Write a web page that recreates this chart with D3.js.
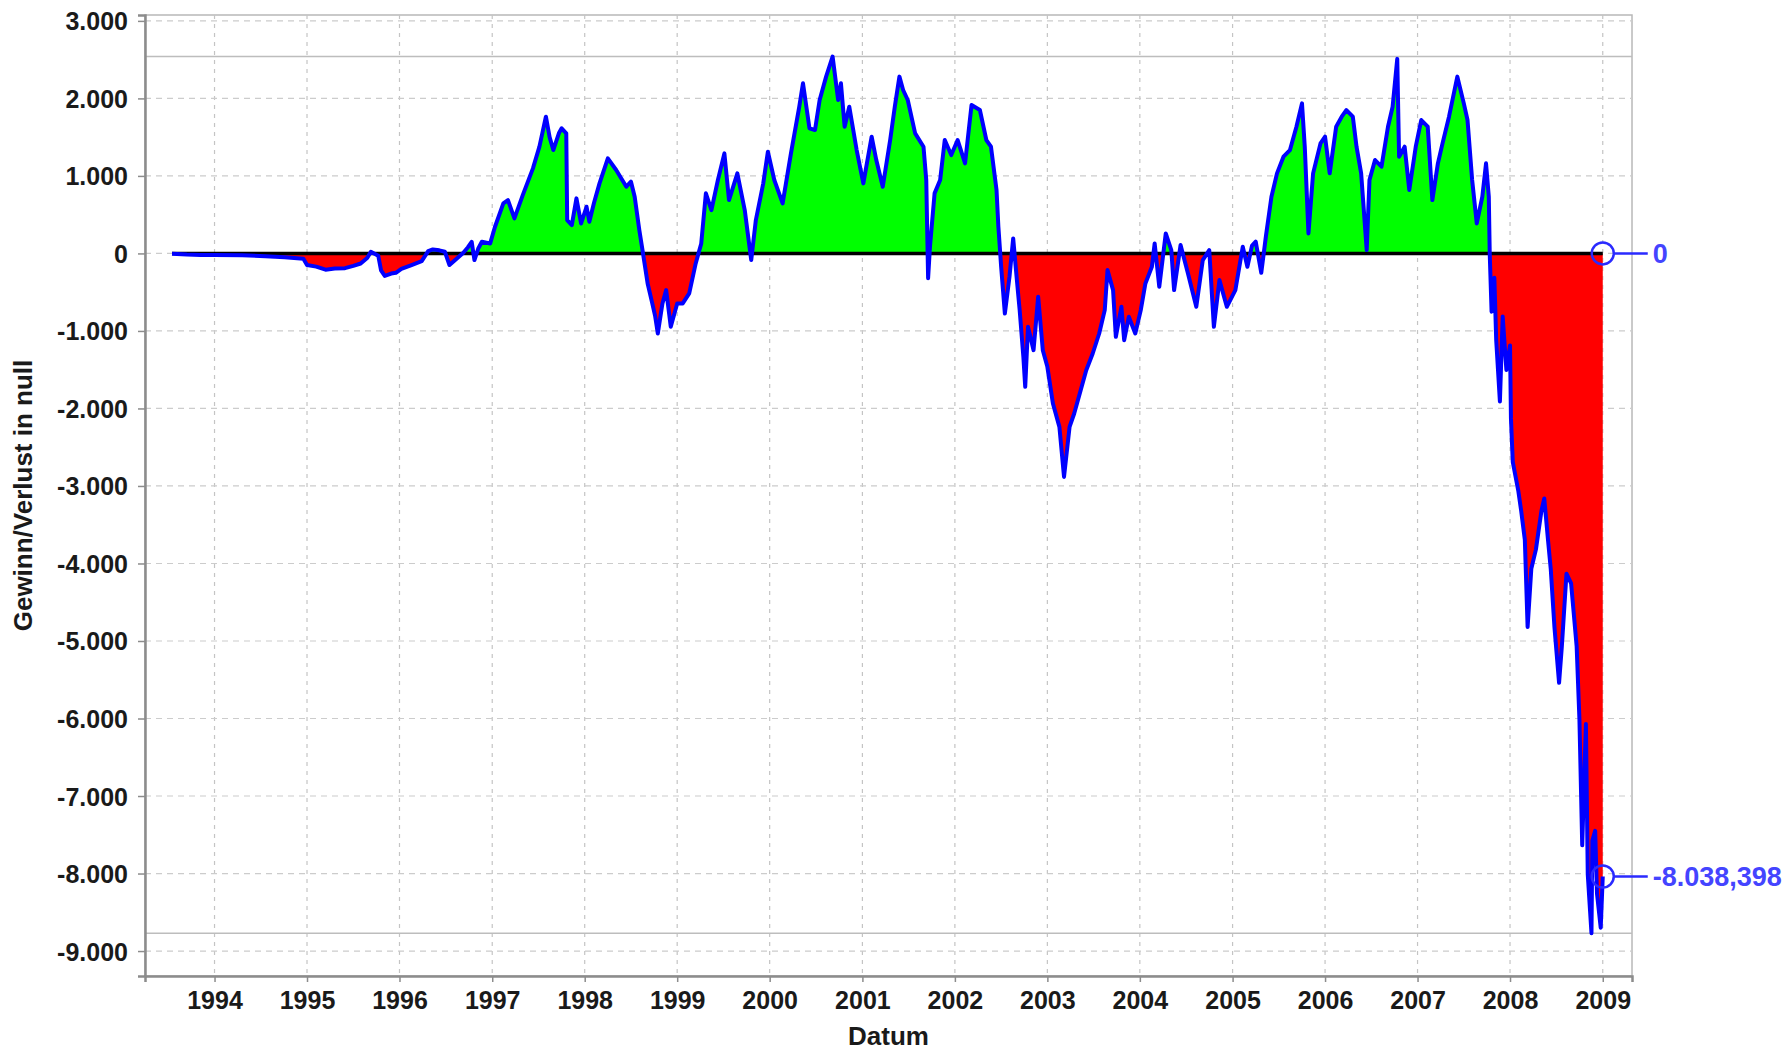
<!DOCTYPE html>
<html>
<head>
<meta charset="utf-8">
<script src="https://cdn.jsdelivr.net/npm/d3@7"></script>
<style>
body { margin:0; background:#fff; }
svg { display:block; font-family:"Liberation Sans", Arial, sans-serif; }
</style>
</head>
<body>
<svg></svg>
<script>
var screen = {width:1790,height:1053}
var margins = {top:15,right:158,bottom:77,left:145}

// decimal years
var times = [1993.54,1993.70,1993.85,1994.00,1994.30,1994.55,1994.76,1994.96,1995.00,1995.10,
1995.20,1995.30,1995.41,1995.50,1995.58,1995.65,1995.69,1995.74,1995.77,1995.80,
1995.84,1995.91,1995.96,1996.02,1996.13,1996.24,1996.31,1996.36,1996.43,1996.49,
1996.54,1996.62,1996.69,1996.74,1996.78,1996.81,1996.85,1996.89,1996.98,1997.03,
1997.12,1997.17,1997.24,1997.33,1997.44,1997.51,1997.58,1997.62,1997.66,1997.72,
1997.75,1997.80,1997.81,1997.86,1997.91,1997.96,1998.02,1998.05,1998.10,1998.16,
1998.25,1998.34,1998.45,1998.50,1998.54,1998.59,1998.63,1998.68,1998.73,1998.76,
1998.79,1998.84,1998.88,1998.93,1999.00,1999.06,1999.13,1999.20,1999.26,1999.31,
1999.37,1999.44,1999.51,1999.56,1999.65,1999.73,1999.80,1999.85,1999.93,1999.98,
2000.05,2000.14,2000.23,2000.32,2000.36,2000.43,2000.49,2000.54,2000.61,2000.68,
2000.74,2000.77,2000.81,2000.86,2000.94,2001.01,2001.10,2001.15,2001.22,2001.30,
2001.35,2001.40,2001.44,2001.49,2001.57,2001.66,2001.69,2001.71,2001.73,2001.78,
2001.84,2001.89,2001.96,2002.03,2002.11,2002.18,2002.27,2002.34,2002.39,2002.45,
2002.47,2002.50,2002.54,2002.59,2002.63,2002.67,2002.70,2002.74,2002.76,2002.79,
2002.85,2002.90,2002.95,2003.00,2003.06,2003.13,2003.18,2003.24,2003.29,2003.36,
2003.42,2003.49,2003.56,2003.62,2003.65,2003.71,2003.74,2003.80,2003.83,2003.88,
2003.95,2004.01,2004.06,2004.13,2004.16,2004.21,2004.28,2004.34,2004.37,2004.44,
2004.52,2004.61,2004.68,2004.75,2004.80,2004.86,2004.94,2005.03,2005.11,2005.16,
2005.21,2005.25,2005.31,2005.36,2005.42,2005.48,2005.55,2005.62,2005.69,2005.75,
2005.78,2005.82,2005.87,2005.95,2006.00,2006.05,2006.12,2006.18,2006.23,2006.30,
2006.34,2006.39,2006.45,2006.48,2006.54,2006.61,2006.68,2006.73,2006.78,2006.80,
2006.86,2006.91,2006.98,2007.04,2007.11,2007.16,2007.22,2007.27,2007.34,2007.43,
2007.50,2007.54,2007.59,2007.64,2007.70,2007.74,2007.77,2007.78,2007.80,2007.83,
2007.85,2007.89,2007.92,2007.96,2008.00,2008.01,2008.03,2008.09,2008.12,2008.16,
2008.19,2008.23,2008.28,2008.34,2008.37,2008.41,2008.44,2008.48,2008.53,2008.56,
2008.61,2008.66,2008.72,2008.75,2008.78,2008.82,2008.84,2008.88,2008.89,2008.92,
2008.94,2008.98,2009.00]

var values = [-5,-15,-20,-20,-22,-35,-50,-70,-150,-170,
-210,-195,-190,-160,-130,-60,20,-10,-30,-220,
-290,-260,-250,-200,-150,-100,30,52,40,22,
-150,-65,9,80,150,-86,60,150,129,344,
645,688,452,753,1097,1377,1764,1500,1334,1550,
1614,1549,430,366,710,387,602,409,650,904,
1226,1076,861,925,731,301,0,-387,-645,-800,
-1033,-645,-473,-947,-645,-645,-516,-129,129,775,
559,947,1291,688,1033,559,-86,430,904,1312,
947,645,1291,1893,2195,1614,1592,1979,2281,2540,
1979,2195,1635,1893,1334,904,1506,1205,861,1463,
1893,2281,2108,1979,1549,1377,947,-320,86,775,
947,1463,1269,1463,1162,1915,1850,1463,1377,818,
344,-172,-775,-301,194,-344,-731,-1334,-1721,-947,
-1248,-559,-1248,-1463,-1936,-2238,-2883,-2238,-2065,-1764,
-1506,-1291,-1033,-731,-215,-473,-1076,-688,-1119,-818,
-1033,-731,-387,-172,129,-430,258,43,-473,108,
-258,-688,-86,43,-947,-344,-688,-473,86,-172,
100,151,-250,220,731,1033,1248,1334,1635,1936,
1377,258,1033,1420,1506,1033,1635,1764,1850,1764,
1377,1033,43,947,1205,1119,1635,1893,2510,1248,
1377,818,1377,1721,1635,688,1162,1420,1764,2281,
1936,1721,947,387,731,1162,731,0,-751,-314,
-1117,-1910,-813,-1503,-1189,-2128,-2692,-3067,-3317,-3693,
-4820,-4069,-3818,-3317,-3161,-3693,-4069,-4820,-5539,-5070,
-4131,-4256,-5070,-6009,-7636,-6071,-8012,-8770,-7573,-7449,
-8262,-8700,-8038.398]

var xTicks = [1994,1995,1996,1997,1998,1999,2000,2001,2002,2003,2004,2005,2006,2007,2008,2009]
var yTicks = [3000,2000,1000,0,-1000,-2000,-3000,-4000,-5000,-6000,-7000,-8000,-9000]
var yTickLabels = ["3.000","2.000","1.000","0","-1.000","-2.000","-3.000","-4.000","-5.000","-6.000","-7.000","-8.000","-9.000"]
var markerValues = [0,-8038.398]
var markerLabels = ["0","-8.038,398"]

var toDate = function(t)
{
    var y = Math.floor(t)
    return new Date(Date.UTC(y,0,1) + (t-y)*365.25*864e5)
}

var data = times.map(function(t,i){return {date:toDate(t), value:values[i]}})

var width = screen.width - margins.left - margins.right
var height = screen.height - margins.top - margins.bottom

var xScale = d3.scaleUtc()
               .domain([toDate(1993.248), toDate(2009.316)])
               .range([0,width])

var yScale = d3.scaleLinear()
               .domain([-9322,3076])
               .range([height,0])

var svg = d3.select("svg")
            .attr("width",screen.width)
            .attr("height",screen.height)

var graph = svg.append("g")
               .attr("id","graph")
               .attr("transform","translate("+margins.left+","+margins.top+")")

graph.append("rect")
     .attr("width",width)
     .attr("height",height)
     .attr("fill","#fff")
     .attr("stroke","#b8b8b8")
     .attr("stroke-width",1.5)

// grid
graph.selectAll(".vgrid")
     .data(xTicks)
     .enter()
     .append("line")
     .attr("x1",function(d){return xScale(toDate(d))})
     .attr("x2",function(d){return xScale(toDate(d))})
     .attr("y1",0)
     .attr("y2",height)
     .attr("stroke","#c4c4c4")
     .attr("stroke-width",1.2)
     .attr("stroke-dasharray","4,5")

graph.selectAll(".hgrid")
     .data(yTicks)
     .enter()
     .append("line")
     .attr("x1",0)
     .attr("x2",width)
     .attr("y1",function(d){return yScale(d)})
     .attr("y2",function(d){return yScale(d)})
     .attr("stroke","#cccccc")
     .attr("stroke-width",1.2)
     .attr("stroke-dasharray","6,5")

// max / min lines
var extent = d3.extent(values)
graph.selectAll(".range")
     .data(extent)
     .enter()
     .append("line")
     .attr("x1",0)
     .attr("x2",width)
     .attr("y1",function(d){return yScale(d)})
     .attr("y2",function(d){return yScale(d)})
     .attr("stroke","#bdbdbd")
     .attr("stroke-width",1.5)

var defs = svg.append("defs")
defs.append("clipPath").attr("id","above")
    .append("rect").attr("x",0).attr("y",0).attr("width",width).attr("height",yScale(0))
defs.append("clipPath").attr("id","below")
    .append("rect").attr("x",0).attr("y",yScale(0)).attr("width",width).attr("height",height-yScale(0))

var area = d3.area()
             .x(function(d){return xScale(d.date)})
             .y0(yScale(0))
             .y1(function(d){return yScale(d.value)})

graph.append("path")
     .datum(data)
     .attr("d",area)
     .attr("fill","#00ff00")
     .attr("clip-path","url(#above)")

graph.append("path")
     .datum(data)
     .attr("d",area)
     .attr("fill","#ff0000")
     .attr("clip-path","url(#below)")

graph.append("line")
     .attr("x1",xScale(data[0].date))
     .attr("x2",xScale(data[data.length-1].date))
     .attr("y1",yScale(0))
     .attr("y2",yScale(0))
     .attr("stroke","#000")
     .attr("stroke-width",3.5)

var line = d3.line()
             .x(function(d){return xScale(d.date)})
             .y(function(d){return yScale(d.value)})

graph.append("path")
     .datum(data)
     .attr("d",line)
     .attr("fill","none")
     .attr("stroke","#0000ff")
     .attr("stroke-width",4)
     .attr("stroke-linejoin","round")

// axes
var xAxis = d3.axisBottom(xScale)
              .tickValues(xTicks.map(toDate))
              .tickFormat(function(d){return d.getUTCFullYear()})
              .tickSize(6)
var yAxis = d3.axisLeft(yScale)
              .tickValues(yTicks)
              .tickFormat(function(d,i){return yTickLabels[i]})
              .tickSize(7)

var gx = graph.append("g")
     .attr("transform","translate(0,"+height+")")
     .call(xAxis)
var gy = graph.append("g")
     .call(yAxis)

gx.select(".domain").attr("stroke","#8c8c8c").attr("stroke-width",2.5)
gy.select(".domain").attr("stroke","#8c8c8c").attr("stroke-width",2.5)
gx.selectAll(".tick line").attr("stroke","#8c8c8c").attr("stroke-width",1.5)
gy.selectAll(".tick line").attr("stroke","#8c8c8c").attr("stroke-width",1.5)
gx.selectAll("text")
  .attr("font-size",25).attr("font-weight","bold").attr("fill","#1a1a1a")
  .attr("font-family","Liberation Sans, Arial, sans-serif")
  .attr("dy","0.95em")
gy.selectAll("text")
  .attr("font-size",25).attr("font-weight","bold").attr("fill","#1a1a1a")
  .attr("font-family","Liberation Sans, Arial, sans-serif")
  .attr("x",-17)
  .attr("dy","0.36em")

// axis titles
svg.append("text")
   .attr("x",margins.left+width/2)
   .attr("y",1045)
   .attr("text-anchor","middle")
   .attr("font-size",26)
   .attr("font-weight","bold")
   .attr("fill","#1a1a1a")
   .text("Datum")

svg.append("text")
   .attr("transform","translate(32,"+(margins.top+height/2)+") rotate(-90)")
   .attr("text-anchor","middle")
   .attr("font-size",26)
   .attr("font-weight","bold")
   .attr("fill","#1a1a1a")
   .text("Gewinn/Verlust in null")

// end markers
var lastX = xScale(data[data.length-1].date)
var markers = graph.selectAll(".marker")
                   .data(markerValues)
                   .enter()
                   .append("g")
                   .attr("transform",function(d){return "translate("+lastX+","+yScale(d)+")"})

markers.append("circle")
       .attr("r",11)
       .attr("fill","none")
       .attr("stroke","#2a2aff")
       .attr("stroke-width",2.5)
markers.append("line")
       .attr("x1",11).attr("x2",45)
       .attr("stroke","#2a2aff")
       .attr("stroke-width",2.5)
markers.append("text")
       .attr("x",50)
       .attr("dy","0.36em")
       .attr("font-size",27)
       .attr("font-weight","bold")
       .attr("fill","#4444ff")
       .text(function(d,i){return markerLabels[i]})
</script>
</body>
</html>
